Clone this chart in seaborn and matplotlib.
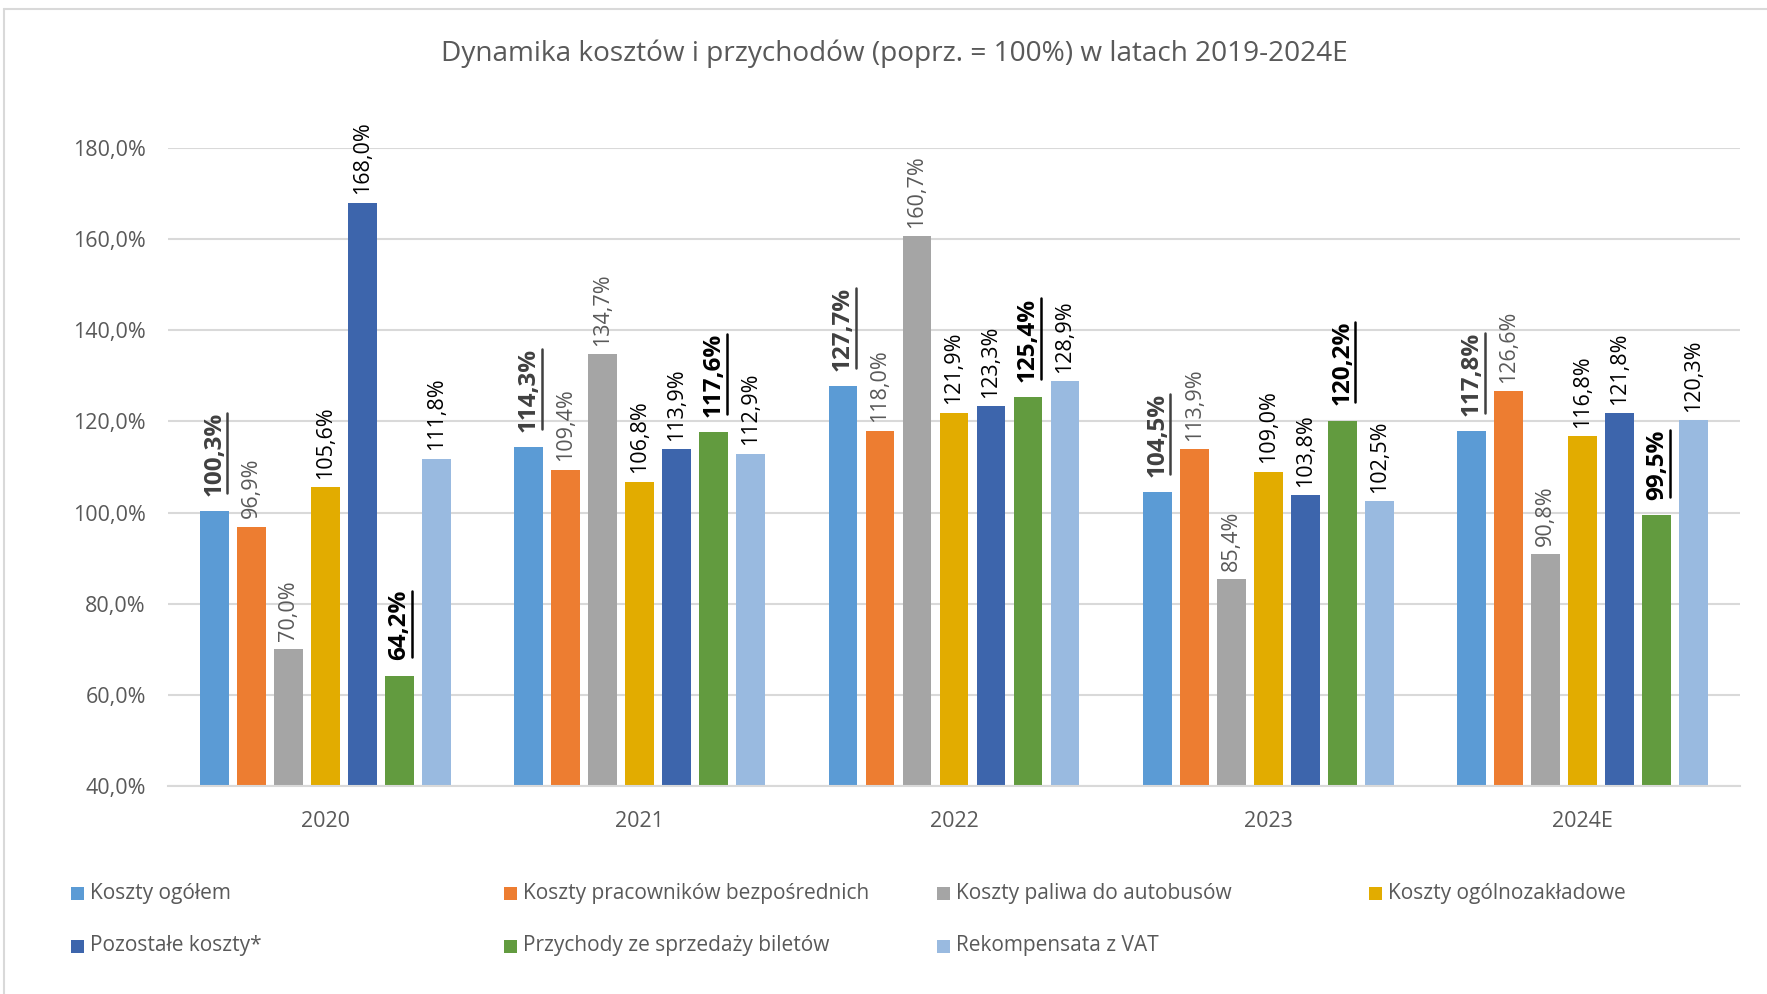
import matplotlib
matplotlib.use("Agg")
import matplotlib.pyplot as plt
from matplotlib.patches import Rectangle
from matplotlib.lines import Line2D
import seaborn as sns
import pandas as pd

years = ["2020", "2021", "2022", "2023", "2024E"]
series = ["Koszty ogółem", "Koszty pracowników bezpośrednich", "Koszty paliwa do autobusów",
          "Koszty ogólnozakładowe", "Pozostałe koszty*", "Przychody ze sprzedaży biletów",
          "Rekompensata z VAT"]
koszty_ogolem = [100.3, 114.3, 127.7, 104.5, 117.8]
koszty_pracownikow = [96.9, 109.4, 118.0, 113.9, 126.6]
koszty_paliwa = [70.0, 134.7, 160.7, 85.4, 90.8]
koszty_ogolnozakladowe = [105.6, 106.8, 121.9, 109.0, 116.8]
pozostale_koszty = [168.0, 113.9, 123.3, 103.8, 121.8]
przychody_bilety = [64.2, 117.6, 125.4, 120.2, 99.5]
rekompensata_vat = [111.8, 112.9, 128.9, 102.5, 120.3]
yticks = [40, 60, 80, 100, 120, 140, 160, 180]
title = "Dynamika kosztów i przychodów (poprz. = 100%) w latach 2019-2024E"

values = [koszty_ogolem, koszty_pracownikow, koszty_paliwa, koszty_ogolnozakladowe,
          pozostale_koszty, przychody_bilety, rekompensata_vat]
colors = ["#5B9BD5", "#ED7D31", "#A5A5A5", "#E2AC00", "#3D65AC", "#629B3F", "#99BAE0"]
label_colors = ["#404040", "#595959", "#595959", "#000000", "#000000", "#000000", "#000000"]
label_bold = [True, False, False, False, False, True, False]

rows = []
for s, vals in zip(series, values):
    for y, v in zip(years, vals):
        rows.append({"Rok": y, "Seria": s, "Wartość": v})
df = pd.DataFrame(rows)

sns.set_theme(style="white")
FONT = "Open Sans"
plt.rcParams["font.family"] = [FONT, "DejaVu Sans"]

W, H = 1767, 994
fig = plt.figure(figsize=(W / 100, H / 100), dpi=100)
ax = fig.add_axes([168 / W, 1 - 786 / H, (1740 - 168) / W, (786 - 148) / H])

sns.barplot(data=df, x="Rok", y="Wartość", hue="Seria", hue_order=series, order=years,
            palette=colors, width=0.824, gap=0.224, ax=ax, legend=False,
            saturation=1, linewidth=0, errorbar=None)

ax.set_ylim(40, 180)
ax.set_yticks(yticks)
ax.set_yticklabels([f"{t:.1f}%".replace(".", ",") for t in yticks])
ax.set_xlabel("")
ax.set_ylabel("")
ax.grid(axis="y", color="#D9D9D9", linewidth=1.5)
ax.set_axisbelow(True)
for sp in ["top", "right", "left"]:
    ax.spines[sp].set_visible(False)
ax.spines["bottom"].set_color("#D9D9D9")
ax.spines["bottom"].set_linewidth(1.5)
ax.tick_params(axis="both", length=0, labelsize=15.5, labelcolor="#595959")
ax.tick_params(axis="y", pad=16)
ax.tick_params(axis="x", pad=18)

fig.text(0.5 + 11 / W, 1 - 54 / H, title, ha="center", va="center", fontsize=20.2,
         color="#595959")

underline_texts = []
for i, cont in enumerate(ax.containers):
    labels = [f"{v:.1f}%".replace(".", ",") for v in values[i]]
    texts = ax.bar_label(cont, labels=labels, rotation=90,
                         padding=11 if label_bold[i] else 6,
                         fontsize=17.5 if label_bold[i] else 15.5,
                         fontweight="bold" if label_bold[i] else "normal",
                         color=label_colors[i], clip_on=False)
    if label_bold[i]:
        underline_texts.extend((t, label_colors[i]) for t in texts)

# legend (manual grid, 4 columns x 2 rows)
col_x = [71, 504, 937, 1369]
row_y = [893, 946]
for i, s in enumerate(series):
    cx = col_x[i % 4]
    cy = row_y[i // 4]
    fig.add_artist(Rectangle((cx / W, 1 - (cy + 6.5) / H), 13 / W, 13 / H,
                             transform=fig.transFigure, color=colors[i], lw=0))
    fig.text((cx + 19) / W, 1 - cy / H, s, ha="left", va="center", fontsize=15,
             color="#595959")

# chart border (top and left)
fig.add_artist(Line2D([4 / W, 4 / W], [0, 1 - 9 / H], transform=fig.transFigure,
                      color="#D9D9D9", lw=1.5))
fig.add_artist(Line2D([4 / W, 1], [1 - 9 / H, 1 - 9 / H], transform=fig.transFigure,
                      color="#D9D9D9", lw=1.5))

fig.canvas.draw()
renderer = fig.canvas.get_renderer()
for t, c in underline_texts:
    bb = t.get_window_extent(renderer)
    x = bb.x1 + 1
    fig.add_artist(Line2D([x / W, x / W], [(bb.y0 + 3) / H, (bb.y1 - 1) / H],
                          transform=fig.transFigure, color=c, lw=1.8))

fig.savefig("out.png", dpi=100)
